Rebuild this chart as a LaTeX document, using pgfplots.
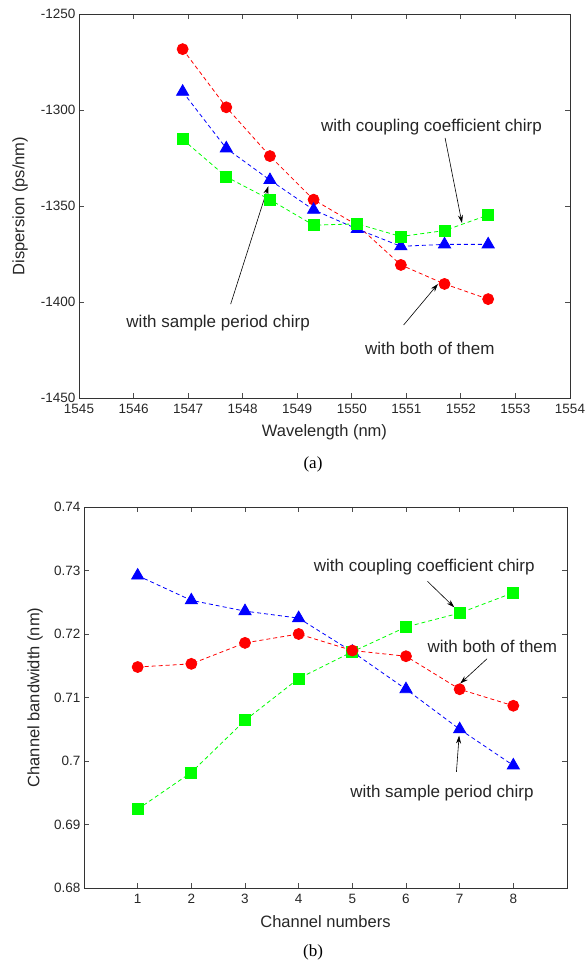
\documentclass[border=0pt]{standalone}
\usepackage{fontspec}
\setmainfont{Liberation Sans}
\newfontfamily\timesfont{Liberation Serif}
\usepackage{pgfplots}
\pgfplotsset{compat=1.18}
\usetikzlibrary{arrows.meta}
\definecolor{mred}{rgb}{1,0,0}
\definecolor{mblue}{rgb}{0,0,1}
\definecolor{mgreen}{rgb}{0,1,0}
\definecolor{txt}{rgb}{0.15,0.15,0.15}

\tikzset{
  annot/.style={font=\fontsize{17}{19}\selectfont, text=txt},
  arr/.style={-{Stealth[length=8pt,width=5pt]}, line width=0.6pt, black},
}
\pgfplotsset{
  mystyle/.style={
    scale only axis, clip=false,
    axis line style={black!80, line width=0.9pt},
    tick align=inside, major tick length=5pt,
    every tick/.style={black!70, line width=0.9pt},
    tick label style={font=\fontsize{13.5}{15}\selectfont, text=txt},
    /pgf/number format/assume math mode=true,
    scaled ticks=false,
    xticklabel style={yshift=-3pt},
    every axis x label/.style={at={(rel axis cs:0.5,0)}, yshift=-34pt, anchor=center, font=\fontsize{16.5}{18}\selectfont, text=txt},
  },
  redline/.style={mred, dash pattern=on 4pt off 3pt, line width=0.8pt, mark=*, mark size=5.5pt, mark options={solid, fill=mred, draw=mred}},
  blueline/.style={mblue, dash pattern=on 4pt off 3pt, line width=0.8pt, mark=triangle*, mark size=7pt, mark options={solid, fill=mblue, draw=mblue}},
  greenline/.style={mgreen, dash pattern=on 4pt off 3pt, line width=0.8pt, mark=square*, mark size=5.5pt, mark options={solid, fill=mgreen, draw=mgreen}},
}

\begin{document}
\begin{tikzpicture}
\useasboundingbox (0,0) rectangle (587pt,962pt);

% ---------------- (a) ----------------
\begin{axis}[mystyle,
  at={(79pt,564pt)}, anchor=south west,
  width=491pt, height=384pt,
  xmin=1545, xmax=1554, ymin=-1450, ymax=-1250,
  xtick={1545,1546,1547,1548,1549,1550,1551,1552,1553,1554},
  xticklabels={1545,1546,1547,1548,1549,1550,1551,1552,1553,1554},
  ytick={-1450,-1400,-1350,-1300,-1250},
  yticklabels={-1450,-1400,-1350,-1300,-1250},
  xlabel={Wavelength (nm)},
  ylabel={Dispersion (ps/nm)},
  every axis y label/.style={at={(rel axis cs:0,0.5)}, xshift=-59pt, rotate=90, anchor=center, font=\fontsize{16.5}{18}\selectfont, text=txt},
]
\addplot[redline] coordinates {
 (1546.9,-1268.3) (1547.7,-1298.6) (1548.5,-1324.0) (1549.3,-1346.7)
 (1550.1,-1360.0) (1550.9,-1380.7) (1551.7,-1390.6) (1552.5,-1398.5)};
\addplot[blueline] coordinates {
 (1546.9,-1290.5) (1547.7,-1320.0) (1548.5,-1336.5) (1549.3,-1352.0)
 (1550.1,-1362.0) (1550.9,-1371.0) (1551.7,-1370.0) (1552.5,-1370.0)};
\addplot[greenline] coordinates {
 (1546.9,-1315.3) (1547.7,-1334.8) (1548.5,-1346.7) (1549.3,-1360.0)
 (1550.1,-1359.3) (1550.9,-1365.9) (1551.7,-1362.8) (1552.5,-1354.7)};

\node[annot] at (axis cs:1551.46,-1308.7) {with coupling coefficient chirp};
\draw[arr] (axis cs:1551.71,-1314.5) -- (axis cs:1552.02,-1358.9);
\node[annot] at (axis cs:1547.55,-1410.8) {with sample period chirp};
\draw[arr] (axis cs:1547.78,-1401.1) -- (axis cs:1548.47,-1339.7);
\node[annot] at (axis cs:1551.43,-1424.2) {with both of them};
\draw[arr] (axis cs:1550.95,-1412.0) -- (axis cs:1551.58,-1390.6);
\end{axis}

% ---------------- (b) ----------------
\begin{axis}[mystyle,
  at={(84pt,74pt)}, anchor=south west,
  width=483pt, height=381pt,
  xmin=0, xmax=9, ymin=0.68, ymax=0.74,
  xtick={1,2,3,4,5,6,7,8},
  xticklabels={1,2,3,4,5,6,7,8},
  ytick={0.68,0.69,0.70,0.71,0.72,0.73,0.74},
  yticklabels={0.68,0.69,0.7,0.71,0.72,0.73,0.74},
  xlabel={Channel numbers},
  ylabel={Channel bandwidth (nm)},
  every axis y label/.style={at={(rel axis cs:0,0.5)}, xshift=-49pt, rotate=90, anchor=center, font=\fontsize{16.5}{18}\selectfont, text=txt},
]
\addplot[blueline] coordinates {
 (1,0.7292) (2,0.7253) (3,0.7236) (4,0.7225) (5,0.7172) (6,0.7113) (7,0.7050) (8,0.6993)};
\addplot[greenline] coordinates {
 (1,0.6924) (2,0.6982) (3,0.7064) (4,0.7130) (5,0.7172) (6,0.7211) (7,0.7233) (8,0.7265)};
\addplot[redline] coordinates {
 (1,0.7148) (2,0.7153) (3,0.7186) (4,0.7200) (5,0.7174) (6,0.7165) (7,0.7113) (8,0.7087)};

\node[annot] at (axis cs:6.34,0.7306) {with coupling coefficient chirp};
\draw[arr] (axis cs:6.40,0.7283) -- (axis cs:6.90,0.7242);
\node[annot] at (axis cs:7.61,0.7180) {with both of them};
\draw[arr] (axis cs:7.51,0.7161) -- (axis cs:7.01,0.7122);
\node[annot] at (axis cs:6.67,0.6949) {with sample period chirp};
\draw[arr] (axis cs:6.94,0.6983) -- (axis cs:6.99,0.7040);
\end{axis}

\node[font=\timesfont\fontsize{17}{19}\selectfont, text=black] at (313pt,497.3pt) {(a)};
\node[font=\timesfont\fontsize{17}{19}\selectfont, text=black] at (313pt,10pt) {(b)};
\end{tikzpicture}
\end{document}
